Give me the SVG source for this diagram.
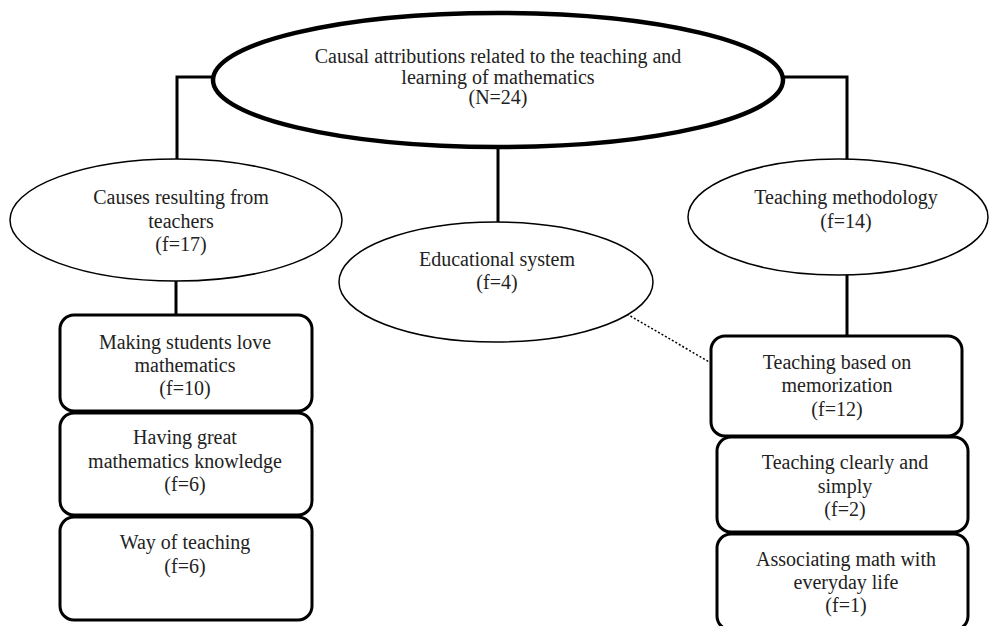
<svg xmlns="http://www.w3.org/2000/svg" width="989" height="626" viewBox="0 0 989 626">
<style>
text{font-family:"Liberation Serif","Times New Roman",serif;font-size:20px;fill:#222;text-anchor:middle}
.ell{fill:#fff;stroke:#000;stroke-width:1.5}
.main{fill:#fff;stroke:#000;stroke-width:4.5}
.box{fill:#fff;stroke:#000;stroke-width:3}
.conn{fill:none;stroke:#000;stroke-width:3}
.dot{fill:none;stroke:#000;stroke-width:1.5;stroke-dasharray:2 2}
</style>
<rect width="989" height="626" fill="#fff"/>
<g id="connectors">
<polyline class="conn" points="213,77 177,77 177,159"/>
<polyline class="conn" points="783,77 847,77 847,159"/>
<line class="conn" x1="498" y1="147" x2="498" y2="222"/>
<line class="conn" x1="176" y1="280" x2="176" y2="315"/>
<line class="conn" x1="847" y1="275" x2="847" y2="336"/>
<line class="dot" x1="627" y1="314" x2="711" y2="363"/>
</g>
<g id="root">
<ellipse class="main" cx="498" cy="80" rx="285" ry="67"/>
<text x="498" y="63">Causal attributions related to the teaching and</text>
<text x="498" y="84">learning of mathematics</text>
<text x="498" y="104">(N=24)</text>
</g>
<g id="teachers">
<ellipse class="ell" cx="176" cy="220" rx="166" ry="61"/>
<text x="181" y="204">Causes resulting from</text>
<text x="181" y="228">teachers</text>
<text x="181" y="251">(f=17)</text>
</g>
<g id="system">
<ellipse class="ell" cx="496" cy="282" rx="157" ry="60"/>
<text x="497" y="266">Educational system</text>
<text x="497" y="289">(f=4)</text>
</g>
<g id="methodology">
<ellipse class="ell" cx="838" cy="217" rx="150" ry="58"/>
<text x="846" y="204">Teaching methodology</text>
<text x="846" y="228">(f=14)</text>
</g>
<g id="love">
<rect class="box" x="60" y="315" width="252" height="96" rx="14"/>
<text x="185" y="349">Making students love</text>
<text x="185" y="372">mathematics</text>
<text x="185" y="395">(f=10)</text>
</g>
<g id="knowledge">
<rect class="box" x="60" y="413" width="252" height="102" rx="14"/>
<text x="185" y="444">Having great</text>
<text x="185" y="468">mathematics knowledge</text>
<text x="185" y="491">(f=6)</text>
</g>
<g id="way">
<rect class="box" x="60" y="517" width="252" height="103" rx="14"/>
<text x="185" y="549">Way of teaching</text>
<text x="185" y="573">(f=6)</text>
</g>
<g id="memorization">
<rect class="box" x="711" y="336" width="251" height="100" rx="14"/>
<text x="837" y="369">Teaching based on</text>
<text x="837" y="392">memorization</text>
<text x="837" y="416">(f=12)</text>
</g>
<g id="clearly">
<rect class="box" x="717" y="437" width="251" height="95" rx="14"/>
<text x="845" y="469">Teaching clearly and</text>
<text x="845" y="493">simply</text>
<text x="845" y="516">(f=2)</text>
</g>
<g id="everyday">
<rect class="box" x="717" y="534" width="251" height="96" rx="14"/>
<text x="846" y="566">Associating math with</text>
<text x="846" y="589">everyday life</text>
<text x="846" y="612">(f=1)</text>
</g>
</svg>
